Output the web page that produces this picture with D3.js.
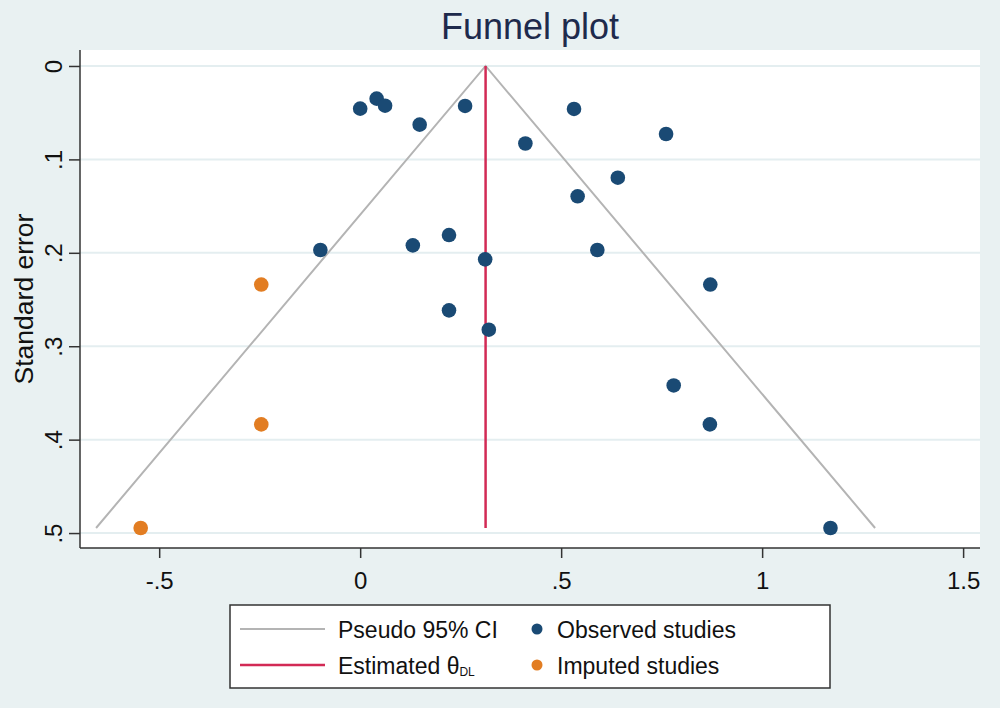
<!DOCTYPE html>
<html>
<head>
<meta charset="utf-8">
<script src="https://cdn.jsdelivr.net/npm/d3@7"></script>
<style>
  body { margin: 0; background: #e9f1f2; }
  svg { display: block; font-family: "Liberation Sans", Arial, sans-serif; }
</style>
</head>
<body>
<div id="chart"></div>
<script>
// observed studies: effect size and standard error
const observedEffect = [0.0, 0.041, 0.062, 0.148, 0.261, 0.532, 0.761, 0.411, 0.641, 0.541,
  -0.099, 0.131, 0.221, 0.311, 0.590, 0.871, 0.221, 0.320, 0.780, 0.870, 1.170];
const observedSE = [0.0457, 0.035, 0.0425, 0.0628, 0.0428, 0.046, 0.0728, 0.083, 0.1196, 0.1395,
  0.197, 0.192, 0.181, 0.207, 0.197, 0.234, 0.2616, 0.2823, 0.342, 0.3837, 0.4946];

// imputed (trim and fill) studies
const imputedEffect = [-0.246, -0.246, -0.546];
const imputedSE = [0.234, 0.3837, 0.4946];

// pseudo 95% CI funnel and pooled estimate
const funnelX = [-0.657, 0.312, 1.281];
const funnelSE = [0.4946, 0, 0.4946];
const thetaDL = 0.312;
const thetaSE = [0, 0.4946];

const xTicks = [-0.5, 0, 0.5, 1, 1.5];
const yTicks = [0, 0.1, 0.2, 0.3, 0.4, 0.5];

const width = 1000, height = 708;
const plot = { left: 80, right: 980, top: 50, bottom: 548 };

const svg = d3.select('#chart').append('svg')
  .attr('width', width)
  .attr('height', height);

svg.append('rect')
  .attr('width', width).attr('height', height)
  .attr('fill', '#e9f1f2');

svg.append('rect')
  .attr('x', plot.left).attr('y', plot.top)
  .attr('width', plot.right - plot.left)
  .attr('height', plot.bottom - plot.top)
  .attr('fill', '#ffffff');

const x = d3.scaleLinear()
  .domain([-0.697, 1.542])
  .range([plot.left, plot.right]);

const y = d3.scaleLinear()
  .domain([-0.0171, 0.516])
  .range([plot.top, plot.bottom]);

const fmt = d => d === 0 ? '0' : String(d).replace('0.', '.');

// gridlines
svg.append('g')
  .selectAll('line')
  .data(yTicks)
  .join('line')
    .attr('x1', plot.left)
    .attr('x2', plot.right)
    .attr('y1', d => y(d))
    .attr('y2', d => y(d))
    .attr('stroke', '#e4eef0')
    .attr('stroke-width', 2);

// y axis
const yAxis = svg.append('g')
  .attr('transform', `translate(${plot.left},0)`)
  .call(d3.axisLeft(y).tickValues(yTicks).tickFormat(fmt).tickSize(11).tickSizeOuter(0));
yAxis.select('.domain').attr('stroke', '#333').attr('stroke-width', 1.5);
yAxis.selectAll('.tick line').attr('stroke', '#333').attr('stroke-width', 1.5);
yAxis.selectAll('.tick text')
  .attr('x', 0)
  .attr('y', -18)
  .attr('dy', 0)
  .attr('text-anchor', 'middle')
  .attr('transform', 'rotate(-90)')
  .attr('font-size', 24)
  .attr('fill', '#111');

// x axis
const xAxis = svg.append('g')
  .attr('transform', `translate(0,${plot.bottom})`)
  .call(d3.axisBottom(x).tickValues(xTicks).tickFormat(fmt).tickSize(10).tickPadding(14).tickSizeOuter(0));
xAxis.select('.domain').attr('stroke', '#333').attr('stroke-width', 1.5);
xAxis.selectAll('.tick line').attr('stroke', '#333').attr('stroke-width', 1.5);
xAxis.selectAll('.tick text')
  .attr('font-size', 24)
  .attr('fill', '#111');

// left/bottom domain lines should span the whole plot area
yAxis.select('.domain').attr('d', `M0,${plot.top}V${plot.bottom}`);
xAxis.select('.domain').attr('d', `M${plot.left},0H${plot.right}`);

// funnel
const funnel = d3.line()
  .x((d, i) => x(funnelX[i]))
  .y(d => y(d));

svg.append('path')
  .datum(funnelSE)
  .attr('d', funnel)
  .attr('fill', 'none')
  .attr('stroke', '#b4b4b4')
  .attr('stroke-width', 2);

// estimated theta
svg.append('line')
  .attr('x1', x(thetaDL)).attr('x2', x(thetaDL))
  .attr('y1', y(thetaSE[0])).attr('y2', y(thetaSE[1]))
  .attr('stroke', '#d22a55')
  .attr('stroke-width', 2.5);

// points
svg.append('g')
  .selectAll('circle')
  .data(observedEffect)
  .join('circle')
    .attr('cx', d => x(d))
    .attr('cy', (d, i) => y(observedSE[i]))
    .attr('r', 7.3)
    .attr('fill', '#1a4a74');

svg.append('g')
  .selectAll('circle')
  .data(imputedEffect)
  .join('circle')
    .attr('cx', d => x(d))
    .attr('cy', (d, i) => y(imputedSE[i]))
    .attr('r', 7.3)
    .attr('fill', '#e27d22');

// title
svg.append('text')
  .attr('x', (plot.left + plot.right) / 2)
  .attr('y', 39)
  .attr('text-anchor', 'middle')
  .attr('font-size', 36)
  .attr('fill', '#1e2a4c')
  .text('Funnel plot');

// y axis title
svg.append('text')
  .attr('transform', `translate(33,${(plot.top + plot.bottom) / 2}) rotate(-90)`)
  .attr('text-anchor', 'middle')
  .attr('font-size', 26.5)
  .attr('fill', '#111')
  .text('Standard error');

// legend
const legend = svg.append('g');
legend.append('rect')
  .attr('x', 230).attr('y', 605)
  .attr('width', 600).attr('height', 83)
  .attr('fill', '#ffffff')
  .attr('stroke', '#333')
  .attr('stroke-width', 1.5);

legend.append('line')
  .attr('x1', 240).attr('x2', 325).attr('y1', 629).attr('y2', 629)
  .attr('stroke', '#b4b4b4').attr('stroke-width', 2);
legend.append('text')
  .attr('x', 338).attr('y', 638)
  .attr('font-size', 23).attr('fill', '#111')
  .text('Pseudo 95% CI');

legend.append('line')
  .attr('x1', 240).attr('x2', 325).attr('y1', 665).attr('y2', 665)
  .attr('stroke', '#d22a55').attr('stroke-width', 2.5);
const est = legend.append('text')
  .attr('x', 338).attr('y', 674)
  .attr('font-size', 23).attr('fill', '#111');
est.append('tspan').text('Estimated θ');
est.append('tspan').attr('font-size', 12).attr('dy', 2).text('DL');

legend.append('circle')
  .attr('cx', 537).attr('cy', 629).attr('r', 5.5).attr('fill', '#1a4a74');
legend.append('text')
  .attr('x', 557).attr('y', 638)
  .attr('font-size', 23).attr('fill', '#111')
  .text('Observed studies');

legend.append('circle')
  .attr('cx', 537).attr('cy', 665).attr('r', 5.5).attr('fill', '#e27d22');
legend.append('text')
  .attr('x', 557).attr('y', 674)
  .attr('font-size', 23).attr('fill', '#111')
  .text('Imputed studies');
</script>
</body>
</html>
